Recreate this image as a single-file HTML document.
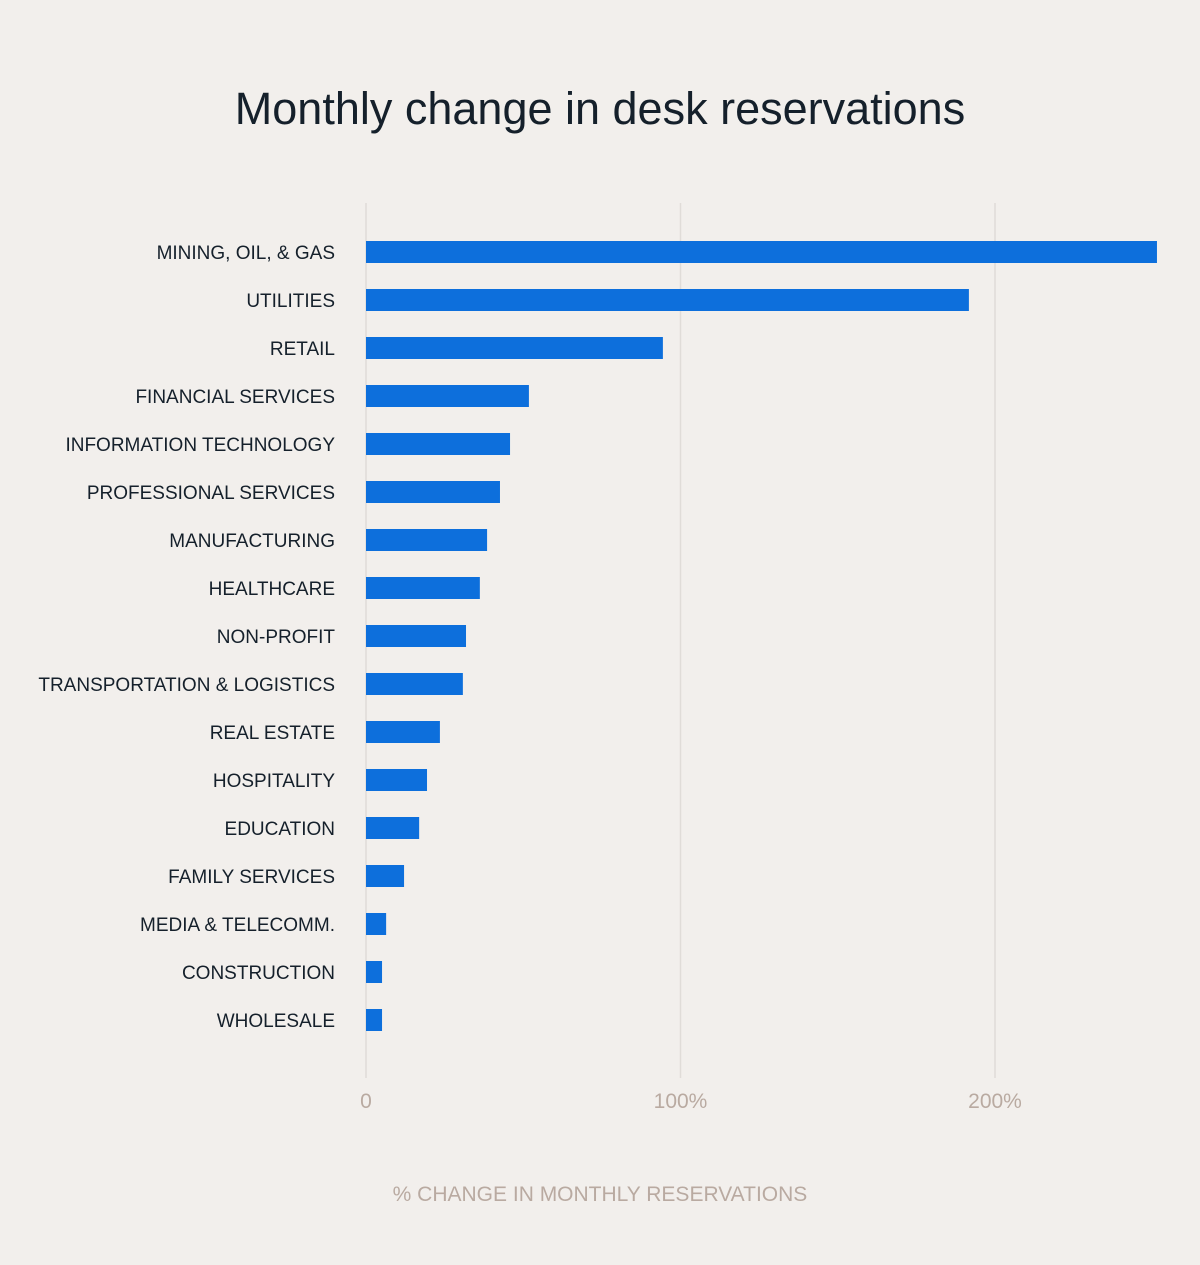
<!DOCTYPE html>
<html><head><meta charset="utf-8">
<style>
body{margin:0;background:#f2efec;}
svg text{font-family:"Liberation Sans",sans-serif;}
</style></head>
<body>
<svg id="chart" width="1200" height="1260" xmlns="http://www.w3.org/2000/svg">
<rect width="1200" height="1260" fill="#f2efec"/>
<text x="600" y="124" text-anchor="middle" font-size="45" font-weight="500" fill="#15202b">Monthly change in desk reservations</text>
<g id="grid"></g>
<g id="bars"></g>
<g id="labels"></g>
<g id="ticks"></g>
<text x="600" y="1201" text-anchor="middle" font-size="21" fill="#b9aaa1">% CHANGE IN MONTHLY RESERVATIONS</text>
</svg>
<script>
const categories=["MINING, OIL, & GAS","UTILITIES","RETAIL","FINANCIAL SERVICES","INFORMATION TECHNOLOGY","PROFESSIONAL SERVICES","MANUFACTURING","HEALTHCARE","NON-PROFIT","TRANSPORTATION & LOGISTICS","REAL ESTATE","HOSPITALITY","EDUCATION","FAMILY SERVICES","MEDIA & TELECOMM.","CONSTRUCTION","WHOLESALE"];
const values=[251.5,191.7,94.4,51.8,45.8,42.6,38.5,36.2,31.8,30.8,23.5,19.4,16.9,12.1,6.4,5.1,5.1];
const tickValues=[0,100,200];
const tickLabels=["0","100%","200%"];
const NS="http://www.w3.org/2000/svg";
const x=v=>366+v*3.145;
const y=i=>252+i*48;
function mk(tag,attrs,parent,text){const e=document.createElementNS(NS,tag);for(const k in attrs)e.setAttribute(k,attrs[k]);if(text!==undefined)e.textContent=text;document.getElementById(parent).appendChild(e);return e;}
tickValues.forEach((t,i)=>{
  const l=mk('line',{x1:x(t),x2:x(t),y1:203,y2:1078,stroke:'#e0dcd8','stroke-width':1.5},'grid');
  
  
  const tx=mk('text',{x:x(t),y:1108,'text-anchor':'middle','font-size':21,fill:'#b9aaa1'},'ticks',tickLabels[i]);
  
  
});
categories.forEach((c,i)=>{
  const r=mk('rect',{x:x(0),y:y(i)-11,width:x(values[i])-x(0),height:22,fill:'#0d6fdc'},'bars');
  
  
  const t=mk('text',{x:335,y:y(i)+7,'text-anchor':'end','font-size':19,fill:'#15202b'},'labels',c);
  
  
});
</script>
</body></html>
